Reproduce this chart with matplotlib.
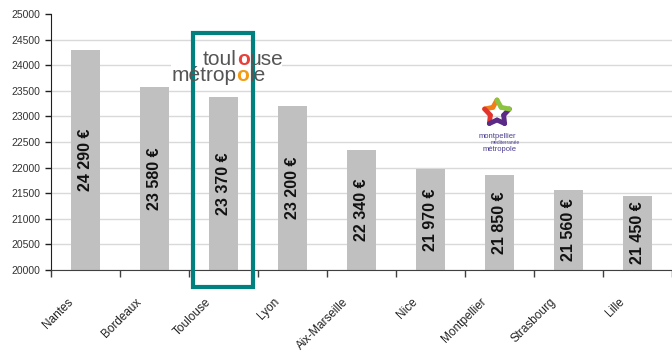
import numpy as np
import matplotlib
matplotlib.use("Agg")
import matplotlib.pyplot as plt
from matplotlib.patches import Rectangle
from matplotlib.transforms import offset_copy

plt.rcParams['font.family'] = ['Liberation Sans', 'DejaVu Sans']

# données
villes = ["Nantes", "Bordeaux", "Toulouse", "Lyon", "Aix-Marseille",
          "Nice", "Montpellier", "Strasbourg", "Lille"]
salaires = [24290, 23580, 23370, 23200, 22340, 21970, 21850, 21560, 21450]
etiquettes = ["24 290 €", "23 580 €", "23 370 €", "23 200 €", "22 340 €",
              "21 970 €", "21 850 €", "21 560 €", "21 450 €"]
graduations_y = list(range(20000, 25001, 500))

fig = plt.figure(figsize=(6.72, 3.54), dpi=100)
ax = fig.add_axes([0.0765, 0.2373, 0.9235, 0.7232])

x = np.arange(len(villes))
base = graduations_y[0]
ax.bar(x, np.array(salaires) - base, bottom=base, width=0.42,
       color="#c0c0c0", zorder=2)

# valeurs dans les barres
for i, (v, lab) in enumerate(zip(salaires, etiquettes)):
    ax.text(i, (base + v) / 2, lab, rotation=90, ha="center", va="center",
            fontsize=11.5, fontweight="bold", color="#111111", zorder=4)

ax.set_xlim(-0.5, 8.40)
ax.set_ylim(20000, 25000)
ax.set_yticks(graduations_y)
ax.set_yticklabels([str(g) for g in graduations_y])
ax.yaxis.grid(True, color="#d9d9d9", linewidth=1)
ax.set_axisbelow(True)
ax.yaxis.get_gridlines()[-1].set_visible(False)

ax.set_xticks(np.arange(-0.5, 9, 1))
ax.set_xticklabels([])
ax.tick_params(axis="x", length=5, width=1, color="#404040", direction="out")
ax.tick_params(axis="y", length=4, width=1, color="#202020", direction="out",
               pad=4, labelsize=7.5, labelcolor="#333333")

for s in ["top", "right"]:
    ax.spines[s].set_visible(False)
ax.spines["left"].set_color("#202020")
ax.spines["bottom"].set_color("#404040")

# noms des villes
trans = offset_copy(ax.get_xaxis_transform(), fig=fig, x=-15, y=-30, units="dots")
for i, nom in enumerate(villes):
    ax.text(i, 0, nom, transform=trans, rotation=45, ha="right", va="center",
            rotation_mode="anchor", fontsize=8.5, color="#222222")

# cadre Toulouse
ax.add_patch(Rectangle((2 - 0.44, 19668), 0.86, 24629 - 19668, fill=False,
                       edgecolor="#00807f", linewidth=3, clip_on=False, zorder=5))

# logo Toulouse Métropole (texte)
ax.add_patch(Rectangle((1.23, 23620), 1.62, 660, facecolor="white",
                       edgecolor="none", zorder=3))
taille_logo = 15
t1 = ax.text(1.70, 24000, "toul", fontsize=taille_logo, color="#555555", zorder=6)
t2 = ax.annotate("o", xy=(1, 0), xycoords=t1, fontsize=taille_logo,
                 color="#e8413c", fontweight="bold", va="bottom", zorder=6)
ax.annotate("use", xy=(1, 0), xycoords=t2, fontsize=taille_logo,
            color="#555555", va="bottom", zorder=6)
t3 = ax.text(1.24, 23690, "métrop", fontsize=taille_logo, color="#555555", zorder=6)
t4 = ax.annotate("o", xy=(1, 0), xycoords=t3, fontsize=taille_logo,
                 color="#f39c12", fontweight="bold", va="bottom", zorder=6)
ax.annotate("le", xy=(1, 0), xycoords=t4, fontsize=taille_logo,
            color="#555555", va="bottom", zorder=6)

# logo Montpellier Méditerranée Métropole
cx, cy = 497, 113
ang = np.pi / 2 + np.arange(11) * np.pi / 5
r = np.where(np.arange(11) % 2 == 0, 13, 7)
px = cx + r * np.cos(ang)
py = cy - r * np.sin(ang)
couleurs = ["#f07f1b", "#f07f1b", "#e2342d", "#e2342d", "#5b2a86",
            "#5b2a86", "#5b2a86", "#5b2a86", "#8cc43f", "#8cc43f"]
for k in range(10):
    fig.add_artist(plt.Line2D([px[k] / 672, px[k + 1] / 672],
                              [1 - py[k] / 354, 1 - py[k + 1] / 354],
                              color=couleurs[k], linewidth=3.5,
                              solid_capstyle="round"))
fig.text(497 / 672, 1 - 136 / 354, "montpellier", fontsize=5.5,
         color="#4a3d8f", ha="center", va="center")
fig.text(505 / 672, 1 - 142 / 354, "méditerranée", fontsize=3.5,
         color="#4a3d8f", ha="center", va="center")
fig.text(500 / 672, 1 - 149 / 354, "métropole", fontsize=5.5,
         color="#4a3d8f", ha="center", va="center")

fig.savefig("out.png", dpi=100)
